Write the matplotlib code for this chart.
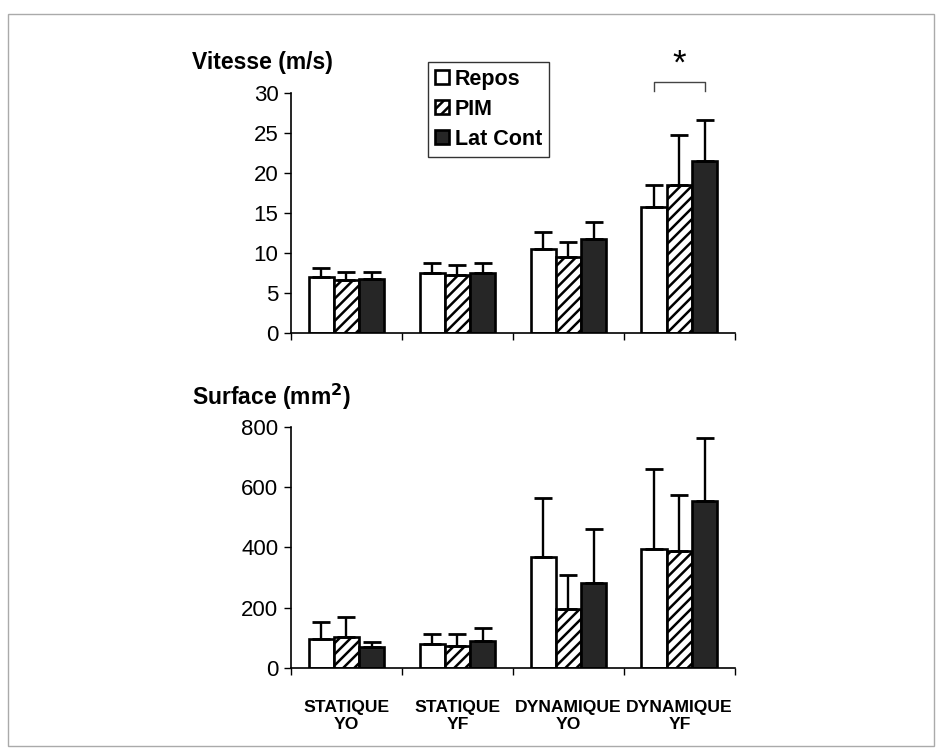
import numpy as np
import matplotlib.pyplot as plt
from matplotlib.patches import Rectangle

plt.rcParams.update({
    'font.family': ['Liberation Sans', 'DejaVu Sans'],
    'font.size': 14,
    'hatch.linewidth': 1.8,
    'axes.linewidth': 1.2,
    'xtick.major.width': 1.0,
    'ytick.major.width': 1.0,
})

# Data (mean, upper SD)
categories = ['STATIQUE\nYO', 'STATIQUE\nYF', 'DYNAMIQUE\nYO', 'DYNAMIQUE\nYF']
series = ['Repos', 'PIM', 'Lat Cont']

vitesse_repos = [7.0, 7.5, 10.5, 15.8]
vitesse_pim = [6.6, 7.2, 9.5, 18.5]
vitesse_lat = [6.7, 7.5, 11.7, 21.5]
vitesse_repos_sd = [1.1, 1.3, 2.1, 2.7]
vitesse_pim_sd = [1.0, 1.3, 1.9, 6.2]
vitesse_lat_sd = [0.9, 1.3, 2.2, 5.1]

surface_repos = [95, 78, 367, 394]
surface_pim = [104, 73, 197, 387]
surface_lat = [70, 88, 282, 555]
surface_repos_sd = [59, 35, 197, 265]
surface_pim_sd = [66, 40, 113, 187]
surface_lat_sd = [16, 44, 179, 208]

styles = [
    dict(facecolor='white'),
    dict(facecolor='white', hatch='///'),
    dict(facecolor='#262626'),
]
WIDTH = 0.228


def draw(ax, means, sds, ymax, step):
    x = np.arange(len(categories)) + 0.5
    for k, (m, s, st, lab) in enumerate(zip(means, sds, styles, series)):
        pos = x + (k - 1) * WIDTH
        ax.bar(pos, m, WIDTH, edgecolor='black', linewidth=1.9, label=lab,
               zorder=2, **st)
        ax.errorbar(pos, m, yerr=[np.zeros(len(m)), s], fmt='none',
                    ecolor='black', elinewidth=1.7, capsize=6.5, capthick=2.0,
                    zorder=3)
    ax.set_xlim(0, len(categories))
    ax.set_ylim(0, ymax)
    ax.set_yticks(np.arange(0, ymax + 1, step))
    ax.set_xticks(np.arange(len(categories) + 1))
    ax.set_xticklabels([])
    for side in ['top', 'right']:
        ax.spines[side].set_visible(False)
    ax.tick_params(axis='both', length=5, labelsize=16, pad=4)
    return x


fig = plt.figure(figsize=(9.42, 7.54), dpi=100)
ax1 = fig.add_axes([0.3089, 0.5584, 0.4713, 0.3183])
ax2 = fig.add_axes([0.3089, 0.1141, 0.4713, 0.3196])

x = draw(ax1,
         [vitesse_repos, vitesse_pim, vitesse_lat],
         [vitesse_repos_sd, vitesse_pim_sd, vitesse_lat_sd], 30, 5)
draw(ax2,
     [surface_repos, surface_pim, surface_lat],
     [surface_repos_sd, surface_pim_sd, surface_lat_sd], 800, 200)

# category labels under the lower chart
ax2.set_xticks(x, minor=True)
ax2.set_xticklabels(categories, minor=True, fontsize=12.6, fontweight='bold',
                    linespacing=1.15)
ax2.tick_params(axis='x', which='minor', length=0, pad=23)

# panel titles
fig.text(0.204, 0.917, 'Vitesse (m/s)', fontsize=16.5, fontweight='bold',
         va='center', ha='left')
fig.text(0.204, 0.473, 'Surface (mm$^\\mathbf{2}$)', fontsize=16.5,
         fontweight='bold', va='center', ha='left')

# legend
leg = ax1.legend(loc='upper left', bbox_to_anchor=(0.308, 1.13),
                 frameon=True, fancybox=False, edgecolor='black',
                 prop={'weight': 'bold', 'size': 15.5},
                 handlelength=0.65, handleheight=0.65, handletextpad=0.3,
                 labelspacing=0.42, borderpad=0.32, borderaxespad=0)
leg.get_frame().set_linewidth(1.0)

# significance bracket over DYNAMIQUE YF
x_left = x[3] - WIDTH
x_right = x[3] + WIDTH
ax1.plot([x_left, x_left, x_right, x_right], [30.2, 31.4, 31.4, 30.2],
         color='#444444', lw=1.0, clip_on=False)
ax1.text((x_left + x_right) / 2, 33.6, '*', fontsize=25, ha='center',
         va='center', clip_on=False)

# thin grey frame around the figure
fig.patches.append(Rectangle((0.009, 0.011), 0.983, 0.970,
                             transform=fig.transFigure, fill=False,
                             edgecolor='#aaaaaa', linewidth=1.0))

fig.savefig('out.png', dpi=100)
